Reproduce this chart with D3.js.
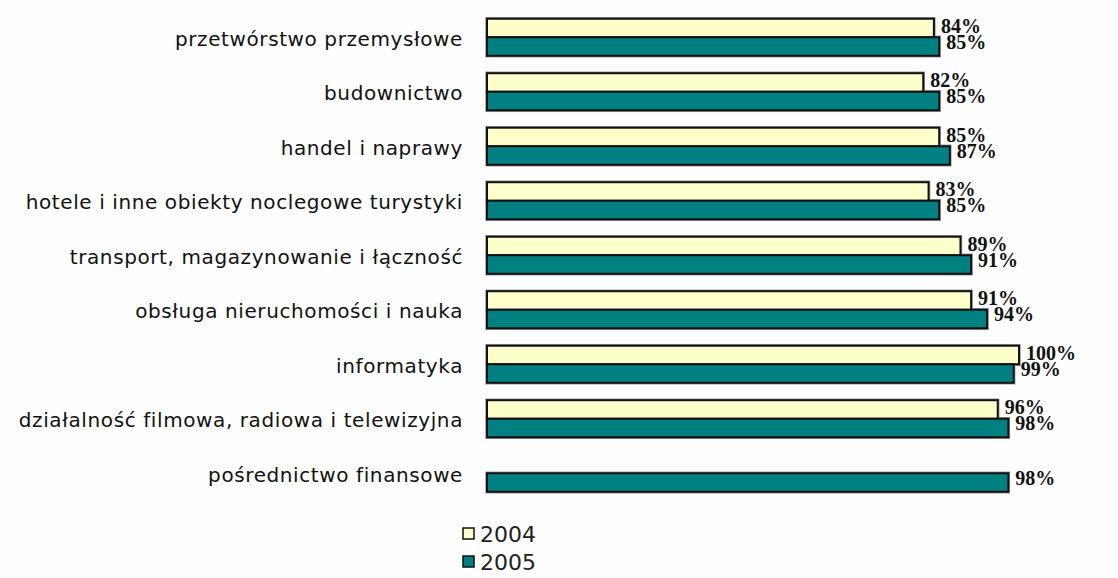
<!DOCTYPE html>
<html>
<head>
<meta charset="utf-8">
<script src="https://cdnjs.cloudflare.com/ajax/libs/d3/7.8.5/d3.min.js"></script>
<style>
  body { margin: 0; background: #fdfefd; }
  svg { display: block; }
</style>
</head>
<body>
<div id="chart"></div>
<script>
var categories = [
  "przetwórstwo przemysłowe",
  "budownictwo",
  "handel i naprawy",
  "hotele i inne obiekty noclegowe turystyki",
  "transport, magazynowanie i łączność",
  "obsługa nieruchomości i nauka",
  "informatyka",
  "działalność filmowa, radiowa i telewizyjna",
  "pośrednictwo finansowe"
];
var values2004 = [84, 82, 85, 83, 89, 91, 100, 96, null];
var values2005 = [85, 85, 87, 85, 91, 94, 99, 98, 98];
var seriesNames = ["2004", "2005"];
var seriesColors = ["#ffffcc", "#008080"];

var width = 1118, height = 578;

var svg = d3.select("#chart")
  .append("svg")
    .attr("width", width)
    .attr("height", height);

// scales
var x = d3.scaleLinear()
  .domain([0, 100])
  .range([487, 1019]);

var y = d3.scaleBand()
  .domain(categories)
  .range([10, 500.5])
  .paddingInner(0.32)
  .paddingOuter(0.16);

var sub = d3.scaleBand()
  .domain(seriesNames)
  .range([0, y.bandwidth()]);

var rows = categories.map(function(c, i) {
  return { cat: c, vals: [values2004[i], values2005[i]] };
});

/////////////////// category labels ///////////////////
svg.selectAll(".cat_label")
  .data(rows)
  .enter()
  .append("text")
  .attr("class", "cat_label")
  .attr("x", 463)
  .attr("y", function(d) { return y(d.cat) + y.bandwidth() / 2 + 8.5; })
  .attr("text-anchor", "end")
  .attr("font-family", "DejaVu Sans")
  .attr("font-size", 20)
  .attr("letter-spacing", 0.6)
  .attr("fill", "#111")
  .text(function(d) { return d.cat; });

/////////////////// bars ///////////////////
var groups = svg.selectAll(".grp")
  .data(rows)
  .enter()
  .append("g")
  .attr("class", "grp")
  .attr("transform", function(d) { return "translate(0," + y(d.cat) + ")"; });

var cells = groups.selectAll(".cell")
  .data(function(d) {
    return d.vals.map(function(v, j) { return { key: seriesNames[j], j: j, value: v }; })
      .filter(function(e) { return e.value != null; });
  })
  .enter();

cells.append("rect")
  .attr("x", x(0))
  .attr("y", function(d) { return sub(d.key); })
  .attr("width", function(d) { return x(d.value) - x(0); })
  .attr("height", sub.bandwidth())
  .attr("fill", function(d) { return seriesColors[d.j]; })
  .attr("stroke", "#9a9a9a")
  .attr("stroke-width", 3.5);

cells.append("rect")
  .attr("x", x(0))
  .attr("y", function(d) { return sub(d.key); })
  .attr("width", function(d) { return x(d.value) - x(0); })
  .attr("height", sub.bandwidth())
  .attr("fill", function(d) { return seriesColors[d.j]; })
  .attr("stroke", "#111")
  .attr("stroke-width", 2);

cells.append("text")
  .attr("x", function(d) { return x(d.value) + 7; })
  .attr("y", function(d) {
    return sub(d.key) + sub.bandwidth() / 2 + (d.j === 0 ? 5 : 2);
  })
  .attr("font-family", "Liberation Serif")
  .attr("font-weight", "bold")
  .attr("font-size", 20)
  .attr("fill", "#111")
  .text(function(d) { return d.value + "%"; });

/////////////////// legend ///////////////////
var legend = svg.selectAll(".legend")
  .data(seriesNames)
  .enter()
  .append("g")
  .attr("class", "legend")
  .attr("transform", function(d, i) { return "translate(463," + (528 + i * 28) + ")"; });

legend.append("rect")
  .attr("width", 11)
  .attr("height", 11)
  .attr("fill", function(d, i) { return seriesColors[i]; })
  .attr("stroke", "#111")
  .attr("stroke-width", 1.5);

legend.append("text")
  .attr("x", 17)
  .attr("y", 14)
  .attr("font-family", "DejaVu Sans")
  .attr("font-size", 22)
  .attr("fill", "#222")
  .text(function(d) { return d; });
</script>
</body>
</html>
